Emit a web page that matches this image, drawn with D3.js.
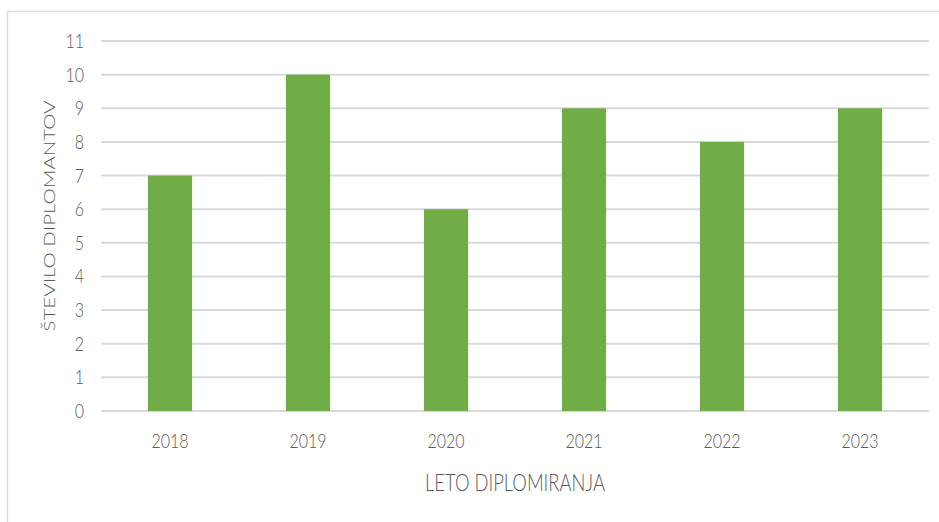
<!DOCTYPE html>
<html>
<head>
<meta charset="utf-8">
<script src="https://cdn.jsdelivr.net/npm/d3@7"></script>
<style>
  body { margin: 0; background: #fff; }
  svg text { font-family: Lato, "Liberation Sans", sans-serif; font-weight: 300; fill: #595959; }
</style>
</head>
<body>
<svg id="chart" width="939" height="522"></svg>
<script>
const years = ["2018", "2019", "2020", "2021", "2022", "2023"];
const graduates = [7, 10, 6, 9, 8, 9];
const yTicks = [0, 1, 2, 3, 4, 5, 6, 7, 8, 9, 10, 11];

const squeeze = 0.8; // the source picture is squashed horizontally

const svg = d3.select("#chart");
const margin = { top: 41, left: 101, right: 10, bottom: 111 };
const width = 939 - margin.left - margin.right;
const height = 522 - margin.top - margin.bottom;

// outer chart border (only top/left show in the crop)
svg.append("rect")
  .attr("x", 7.5).attr("y", 11.5)
  .attr("width", 960).attr("height", 560)
  .attr("fill", "none")
  .attr("stroke", "#d9d9d9")
  .attr("stroke-width", 1.5);

const g = svg.append("g").attr("transform", `translate(${margin.left},${margin.top})`);

const x = d3.scaleBand().domain(years).range([0, width]).paddingInner(0.68).paddingOuter(0.34);
const y = d3.scaleLinear().domain([0, 11]).range([height, 0]);

function label(parent, px, py, txt, anchor, size, rot) {
  // rotated text gets squashed across its height instead of its length
  let s = rot ? `rotate(${rot}) scale(1,${squeeze})` : `scale(${squeeze},1)`;
  parent.append("text")
    .attr("transform", `translate(${px},${py}) ${s}`)
    .attr("dy", "0.35em")
    .attr("text-anchor", anchor)
    .attr("font-size", size)
    .text(txt);
}

// gridlines
g.selectAll("line.grid").data(yTicks).enter().append("line")
  .attr("class", "grid")
  .attr("x1", 0).attr("x2", width)
  .attr("y1", d => y(d)).attr("y2", d => y(d))
  .attr("stroke", "#d9d9d9").attr("stroke-width", 2);

// y tick labels
yTicks.forEach(d => label(g, -17, y(d), d, "end", 20));

// bars
g.selectAll("rect.bar").data(graduates).enter().append("rect")
  .attr("class", "bar")
  .attr("x", (d, i) => x(years[i]))
  .attr("y", d => y(d))
  .attr("width", x.bandwidth())
  .attr("height", d => y(0) - y(d))
  .attr("fill", "#70ad47");

// x tick labels
years.forEach(d => label(g, x(d) + x.bandwidth() / 2, height + 30, d, "middle", 20));

// axis titles
label(g, width / 2, height + 72, "LETO DIPLOMIRANJA", "middle", 23);
label(svg, 49, 216, "ŠTEVILO DIPLOMANTOV", "middle", 20.5, -90);
</script>
</body>
</html>
